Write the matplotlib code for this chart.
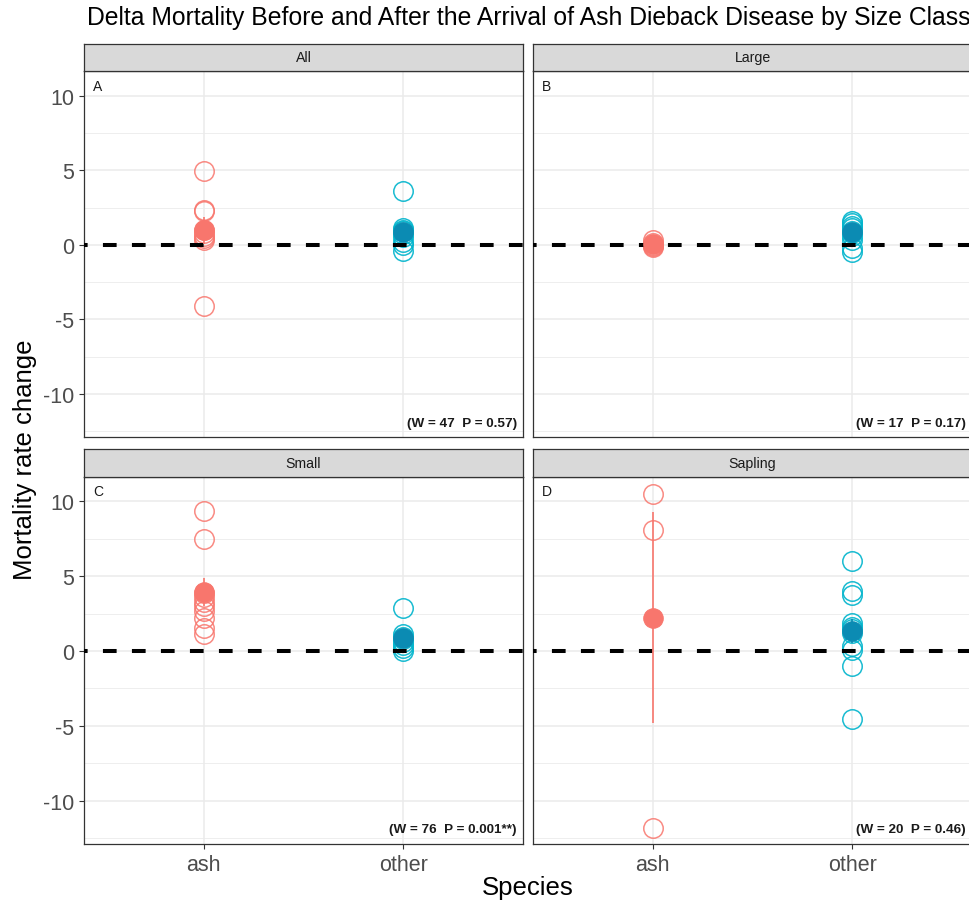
import matplotlib
matplotlib.use("Agg")
import matplotlib.pyplot as plt
from matplotlib.ticker import MultipleLocator

plt.rcParams['font.family'] = ['Liberation Sans', 'DejaVu Sans']

# ---------------- data ----------------
panels = ["All", "Large", "Small", "Sapling"]
letters = ["A", "B", "C", "D"]
stats = ["(W = 47  P = 0.57)", "(W = 17  P = 0.17)",
         "(W = 76  P = 0.001**)", "(W = 20  P = 0.46)"]
species = ["ash", "other"]

ash_all = [4.96, 2.33, 2.25, 1.0, 0.8, 0.6, 0.45, 0.3, -4.11]
other_all = [3.62, 1.1, 1.0, 0.9, 0.7, 0.5, 0.2, 0.0, -0.38]
ash_large = [0.3, 0.15, 0.0, -0.1, -0.15]
other_large = [1.6, 1.45, 1.3, 1.1, 0.9, 0.8, 0.6, 0.3, -0.2, -0.45]
ash_small = [9.38, 7.51, 3.9, 3.6, 3.3, 3.0, 2.7, 2.2, 1.55, 1.1]
other_small = [2.89, 1.1, 0.9, 0.8, 0.6, 0.4, 0.2, 0.0]
ash_sapling = [10.49, 8.11, -11.84]
other_sapling = [6.04, 4.0, 3.75, 1.85, 1.6, 1.45, 1.2, 0.3, 0.05, -1.0, -4.56]

ash_mean = [0.98, 0.05, 3.93, 2.22]
ash_se = [0.9, 0.08, 0.96, 7.03]
other_mean = [0.88, 0.85, 0.85, 1.3]
other_se = [0.4, 0.22, 0.35, 0.8]

ash_points = [ash_all, ash_large, ash_small, ash_sapling]
other_points = [other_all, other_large, other_small, other_sapling]

# ---------------- styling ----------------
W, H = 969, 903
fig = plt.figure(figsize=(W / 100, H / 100), dpi=100)

ASH_OPEN = '#F8766D'
ASH_FILL = '#F8766D'
OTH_OPEN = '#00B4CC'
OTH_FILL = '#0B8BB3'
GRID = '#EBEBEB'
BORDER = '#333333'

col_x = [84, 533]
panel_w = 439
rows = [(72.3, 438.3, 44.5), (477.7, 845.0, 450.0)]  # (top, bottom, strip_top)

MS = 14
ylim = (-12.9, 11.64)
xlim = (0.4, 2.6)

for i, name in enumerate(panels):
    r, c = divmod(i, 2)
    top, bot, stop = rows[r]
    left = col_x[c]
    ax = fig.add_axes([left / W, 1 - bot / H, panel_w / W, (bot - top) / H])
    ax.set_xlim(*xlim)
    ax.set_ylim(*ylim)
    ax.set_facecolor('white')
    ax.yaxis.set_major_locator(MultipleLocator(5))
    ax.yaxis.set_minor_locator(MultipleLocator(2.5))
    ax.set_xticks([1, 2])
    ax.grid(True, which='major', color=GRID, lw=1.1, zorder=0)
    ax.grid(True, which='minor', axis='y', color=GRID, lw=0.6, zorder=0)
    ax.set_axisbelow(True)
    for s in ax.spines.values():
        s.set_color(BORDER)
        s.set_linewidth(0.9)
    ax.tick_params(which='minor', length=0)
    ax.tick_params(which='major', color=BORDER, length=3.5, width=0.8,
                   labelcolor='#4D4D4D', labelsize=15.5)
    if c == 0:
        ax.set_yticks([-10, -5, 0, 5, 10])
        ax.set_yticklabels(['-10', '-5', '0', '5', '10'])
    else:
        ax.tick_params(axis='y', which='both', left=False, labelleft=False)
    if r == 1:
        ax.set_xticklabels(species)
        ax.tick_params(axis='x', pad=4)
    else:
        ax.tick_params(axis='x', bottom=False, labelbottom=False)

    # open circles (individual values)
    ap = ash_points[i]
    op = other_points[i]
    ax.plot([1] * len(ap), ap, linestyle='none', marker='o', ms=MS,
            mfc='none', mec=ASH_OPEN, mew=1.1, alpha=0.85, zorder=2)
    ax.plot([2] * len(op), op, linestyle='none', marker='o', ms=MS,
            mfc='none', mec=OTH_OPEN, mew=1.1, alpha=0.9, zorder=2)

    # zero reference line
    ax.axhline(0, color='black', lw=2.9, linestyle=(2.5, (3.4, 3.8)), zorder=3)

    # mean +/- se
    ax.errorbar([1], [ash_mean[i]], yerr=[ash_se[i]], fmt='none',
                ecolor=ASH_FILL, elinewidth=1.2, capsize=0, zorder=4)
    ax.errorbar([2], [other_mean[i]], yerr=[other_se[i]], fmt='none',
                ecolor=OTH_FILL, elinewidth=1.2, capsize=0, zorder=4)
    ax.plot([1], [ash_mean[i]], linestyle='none', marker='o', ms=MS,
            mfc=ASH_FILL, mec=ASH_FILL, mew=0.8, zorder=5)
    ax.plot([2], [other_mean[i]], linestyle='none', marker='o', ms=MS,
            mfc=OTH_FILL, mec=OTH_FILL, mew=0.8, zorder=5)

    # panel letter & test statistic
    ax.annotate(letters[i], xy=(0, 1), xycoords='axes fraction',
                xytext=(6.5, -10.5), textcoords='offset points',
                ha='left', va='center', fontsize=10, color='#1A1A1A')
    ax.annotate(stats[i], xy=(1, 0), xycoords='axes fraction',
                xytext=(-4.5, 10.5), textcoords='offset points',
                ha='right', va='center', fontsize=9.7, fontweight='bold',
                color='#1A1A1A')

    # strip
    sax = fig.add_axes([left / W, 1 - top / H, panel_w / W, (top - stop) / H])
    sax.set_facecolor('#D9D9D9')
    sax.set_xticks([])
    sax.set_yticks([])
    for s in sax.spines.values():
        s.set_color(BORDER)
        s.set_linewidth(0.9)
    sax.text(0.5, 0.5, name, ha='center', va='center', fontsize=10.2,
             color='#1A1A1A', transform=sax.transAxes)

fig.text(87 / W, 1 - 18.5 / H,
         "Delta Mortality Before and After the Arrival of Ash Dieback Disease by Size Class",
         ha='left', va='center', fontsize=17.85, color='black')
fig.text(25 / W, 1 - 460 / H, "Mortality rate change", rotation=90,
         ha='center', va='center', fontsize=18.5, color='black')
fig.text(528 / W, 1 - 888 / H, "Species", ha='center', va='center',
         fontsize=18.5, color='black')

fig.savefig("out.png", dpi=100)
